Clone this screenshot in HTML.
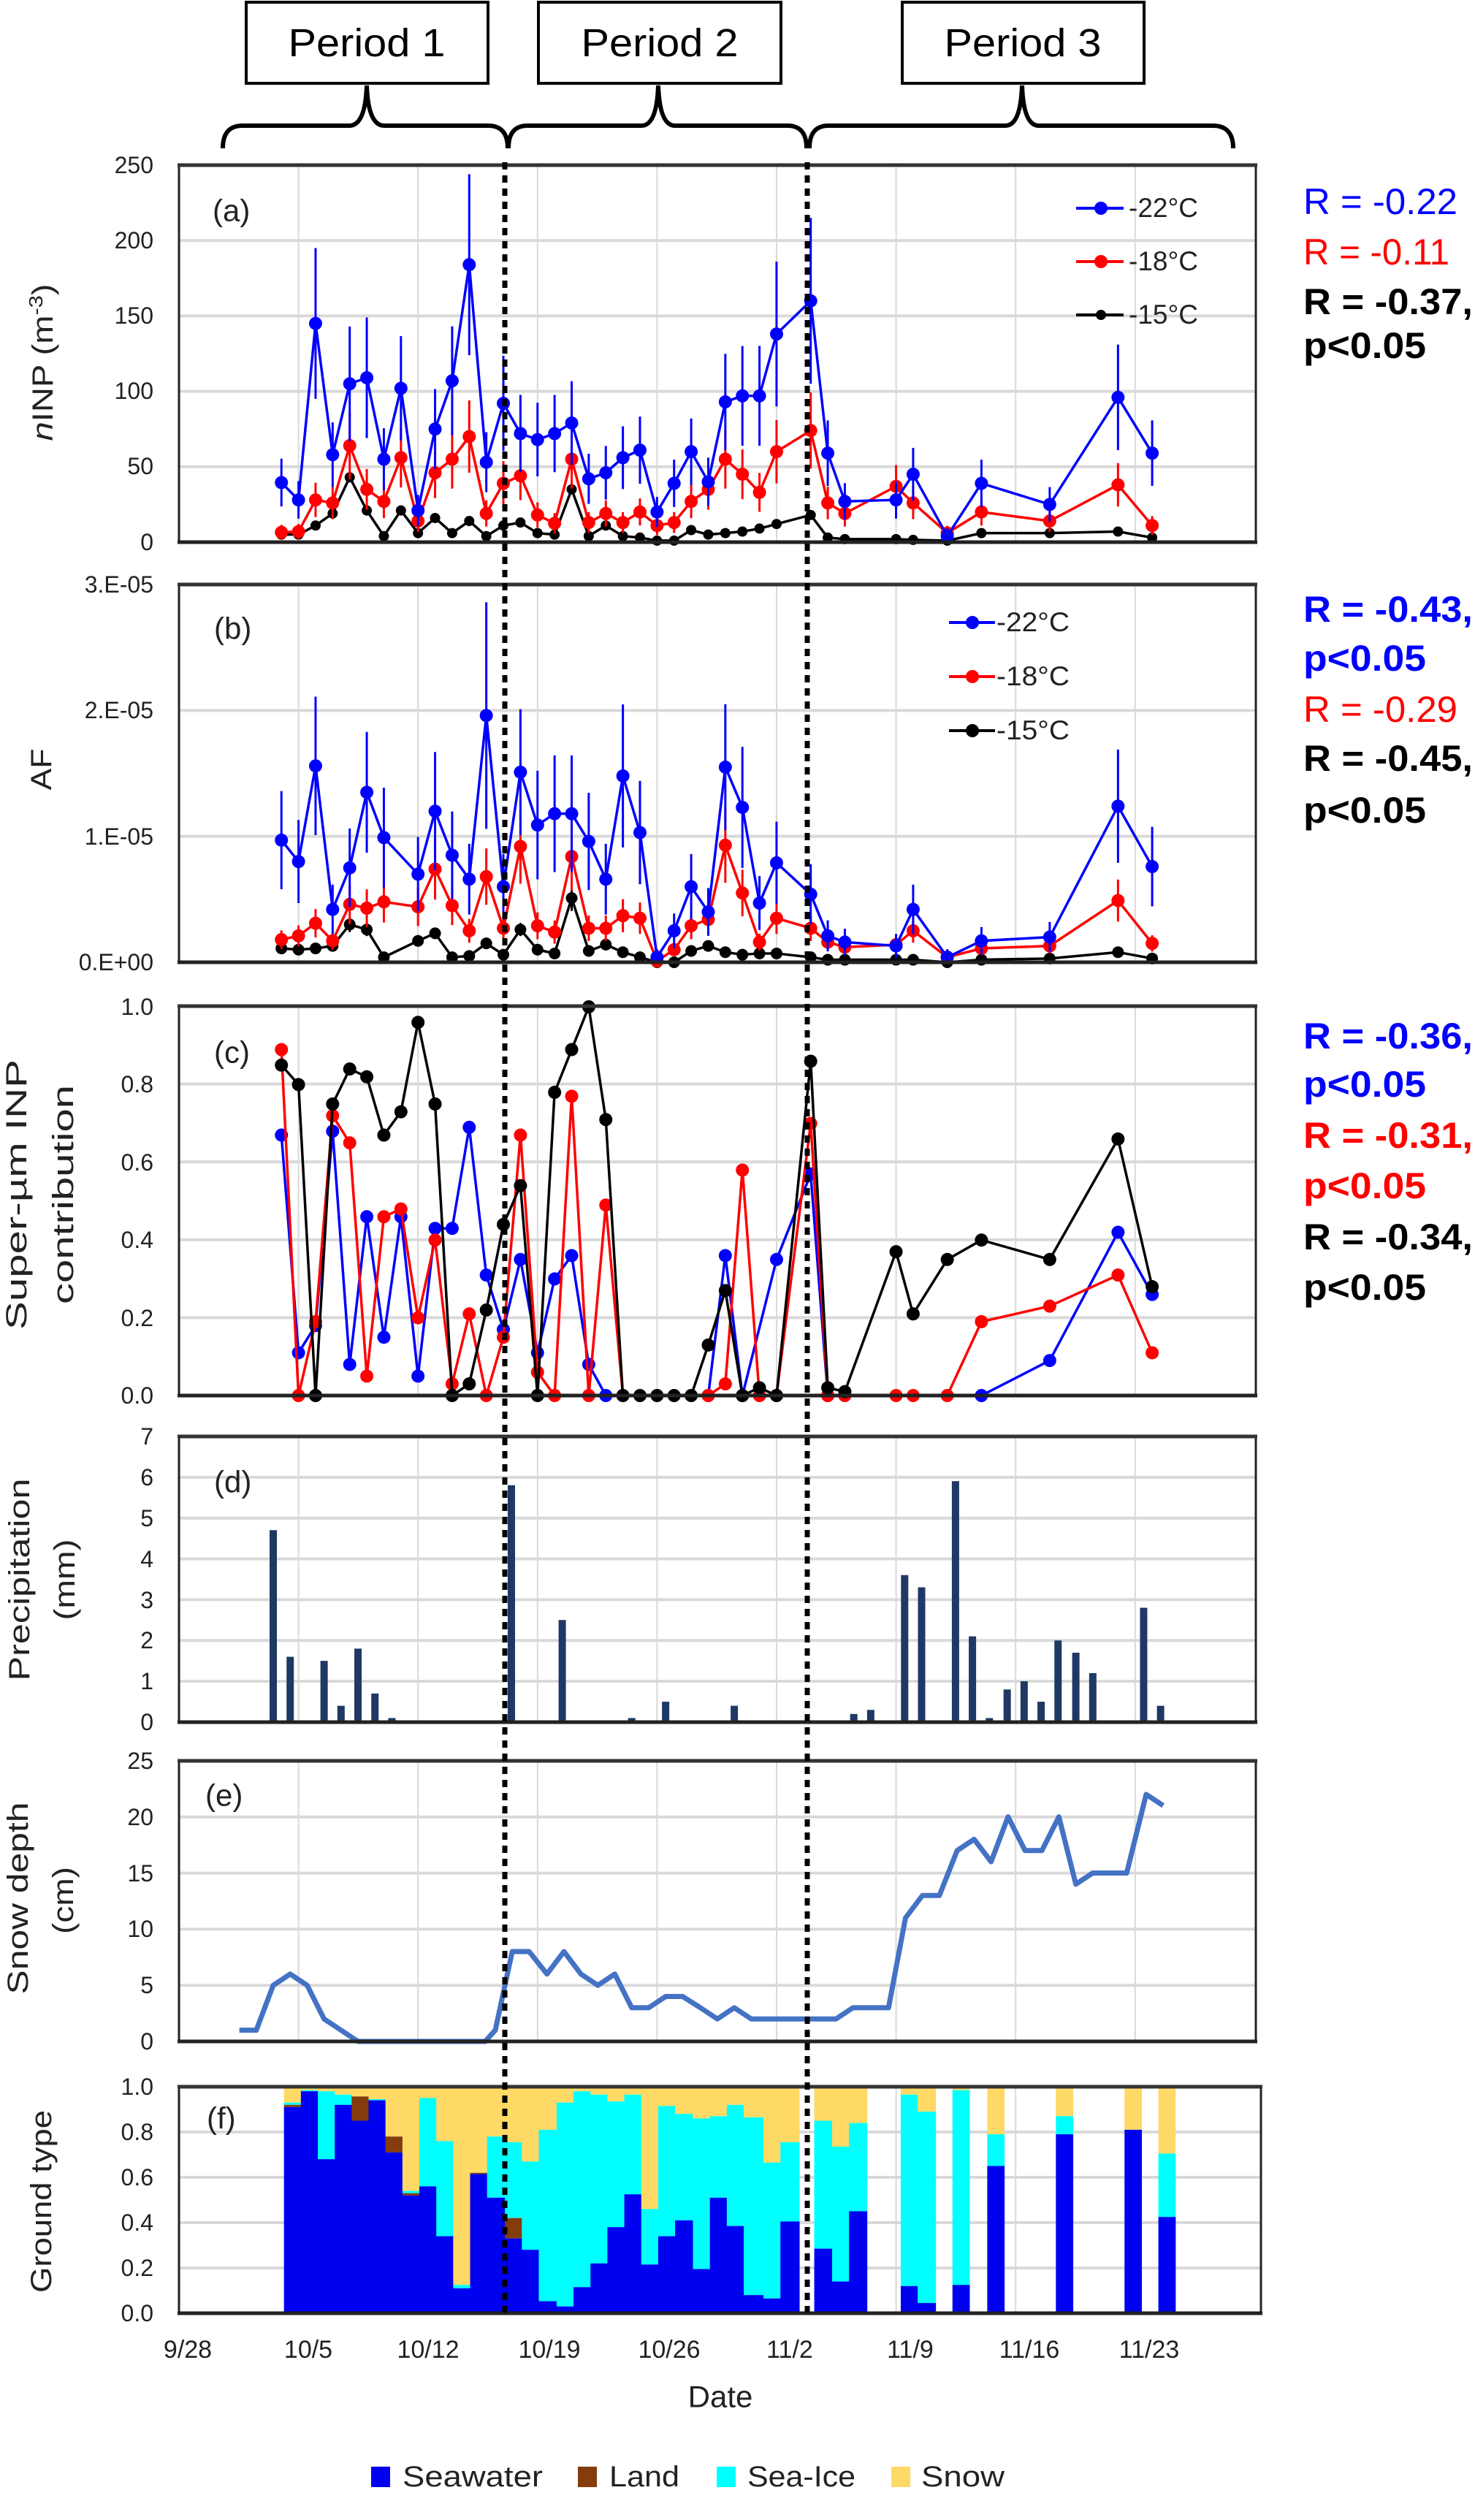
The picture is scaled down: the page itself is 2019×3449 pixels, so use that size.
<!DOCTYPE html>
<html><head><meta charset="utf-8"><style>
html,body{margin:0;padding:0;background:#fff;}
svg{display:block;font-family:"Liberation Sans",sans-serif;}
</style></head><body>
<svg id="s" xmlns="http://www.w3.org/2000/svg" width="2019" height="3449" viewBox="0 0 2019 3449">
<rect width="2019" height="3449" fill="#fff"/>
<g id="grid"></g>
<g id="data"></g>
<g fill="none" stroke="#000" stroke-width="4">
<rect x="337" y="3" width="331" height="111"/>
<rect x="737" y="3" width="332" height="111"/>
<rect x="1235" y="3" width="331" height="111"/>
<path d="M305,203 Q305,172 332,172 L478,172 Q500,172 502,117 Q504,172 526,172 L668,172 Q695,172 695,203" stroke-width="6"/>
<path d="M696,203 Q696,172 722,172 L878,172 Q899,172 901,117 Q903,172 924,172 L1078,172 Q1104,172 1104,203" stroke-width="6"/>
<path d="M1108,203 Q1108,172 1134,172 L1376,172 Q1397,172 1399,117 Q1401,172 1422,172 L1660,172 Q1688,172 1688,203" stroke-width="6"/>
</g>
<g font-size="54" text-anchor="middle" fill="#000">
<text x="502" y="77" textLength="215" lengthAdjust="spacingAndGlyphs">Period 1</text>
<text x="903" y="77" textLength="215" lengthAdjust="spacingAndGlyphs">Period 2</text>
<text x="1400" y="77" textLength="215" lengthAdjust="spacingAndGlyphs">Period 3</text>
</g>
<g font-size="32" text-anchor="end" fill="#222" dominant-baseline="central">
<text x="210" y="226">250</text><text x="210" y="329">200</text><text x="210" y="432">150</text><text x="210" y="535">100</text><text x="210" y="638">50</text><text x="210" y="742">0</text>
<text x="210" y="800">3.E-05</text><text x="210" y="972">2.E-05</text><text x="210" y="1145">1.E-05</text><text x="210" y="1317">0.E+00</text>
<text x="210" y="1378">1.0</text><text x="210" y="1484">0.8</text><text x="210" y="1591">0.6</text><text x="210" y="1697">0.4</text><text x="210" y="1804">0.2</text><text x="210" y="1910">0.0</text>
<text x="210" y="1966">7</text><text x="210" y="2022">6</text><text x="210" y="2078">5</text><text x="210" y="2134">4</text><text x="210" y="2190">3</text><text x="210" y="2245">2</text><text x="210" y="2301">1</text><text x="210" y="2357">0</text>
<text x="210" y="2410">25</text><text x="210" y="2487">20</text><text x="210" y="2564">15</text><text x="210" y="2640">10</text><text x="210" y="2717">5</text><text x="210" y="2794">0</text>
<text x="210" y="2856">1.0</text><text x="210" y="2918">0.8</text><text x="210" y="2980">0.6</text><text x="210" y="3042">0.4</text><text x="210" y="3104">0.2</text><text x="210" y="3166">0.0</text>
</g>
<g font-size="34" text-anchor="middle" fill="#222" dominant-baseline="central">
<text x="257" y="3216">9/28</text><text x="422" y="3216">10/5</text><text x="586" y="3216">10/12</text><text x="752" y="3216">10/19</text><text x="916" y="3216">10/26</text><text x="1081" y="3216">11/2</text><text x="1246" y="3216">11/9</text><text x="1409" y="3216">11/16</text><text x="1573" y="3216">11/23</text>
</g>
<text x="986" y="3280" font-size="42" text-anchor="middle" dominant-baseline="central" fill="#222">Date</text>
<g font-size="40" fill="#222" text-anchor="middle">
<text transform="translate(72,496) rotate(-90)" textLength="215" lengthAdjust="spacingAndGlyphs"><tspan font-style="italic">n</tspan>INP (m<tspan font-size="26" dy="-14">-3</tspan><tspan dy="14">)</tspan></text>
<text transform="translate(70,1053) rotate(-90)" textLength="57" lengthAdjust="spacingAndGlyphs">AF</text>
<text transform="translate(36,1635) rotate(-90)" textLength="370" lengthAdjust="spacingAndGlyphs">Super-µm INP</text>
<text transform="translate(100,1635) rotate(-90)" textLength="300" lengthAdjust="spacingAndGlyphs">contribution</text>
<text transform="translate(40,2162) rotate(-90)" textLength="277" lengthAdjust="spacingAndGlyphs">Precipitation</text>
<text transform="translate(102,2162) rotate(-90)" textLength="111" lengthAdjust="spacingAndGlyphs">(mm)</text>
<text transform="translate(38,2598) rotate(-90)" textLength="263" lengthAdjust="spacingAndGlyphs">Snow depth</text>
<text transform="translate(100,2601) rotate(-90)" textLength="92" lengthAdjust="spacingAndGlyphs">(cm)</text>
<text transform="translate(70,3013) rotate(-90)" textLength="250" lengthAdjust="spacingAndGlyphs">Ground type</text>
</g>
<g font-size="42" fill="#222" dominant-baseline="central">
<text x="291" y="288">(a)</text><text x="293" y="860">(b)</text><text x="293" y="1440">(c)</text><text x="293" y="2028">(d)</text><text x="281" y="2457">(e)</text><text x="283" y="2899">(f)</text>
</g>
<g font-size="37" fill="#222">
<line x1="1473" y1="285" x2="1538" y2="285" stroke="#00f" stroke-width="4"/><circle cx="1507" cy="285" r="9" fill="#00f"/>
<text x="1545" y="297" textLength="95" lengthAdjust="spacingAndGlyphs">-22°C</text>
<line x1="1473" y1="358" x2="1538" y2="358" stroke="#f00" stroke-width="4"/><circle cx="1507" cy="358" r="9" fill="#f00"/>
<text x="1545" y="370" textLength="95" lengthAdjust="spacingAndGlyphs">-18°C</text>
<line x1="1473" y1="431" x2="1538" y2="431" stroke="#000" stroke-width="4"/><circle cx="1507" cy="431" r="7" fill="#000"/>
<text x="1545" y="443" textLength="95" lengthAdjust="spacingAndGlyphs">-15°C</text>
<line x1="1299" y1="852" x2="1362" y2="852" stroke="#00f" stroke-width="4"/><circle cx="1331" cy="852" r="9" fill="#00f"/>
<text x="1364" y="864" textLength="100" lengthAdjust="spacingAndGlyphs">-22°C</text>
<line x1="1299" y1="926" x2="1362" y2="926" stroke="#f00" stroke-width="4"/><circle cx="1331" cy="926" r="9" fill="#f00"/>
<text x="1364" y="938" textLength="100" lengthAdjust="spacingAndGlyphs">-18°C</text>
<line x1="1299" y1="1000" x2="1362" y2="1000" stroke="#000" stroke-width="4"/><circle cx="1331" cy="1000" r="9" fill="#000"/>
<text x="1364" y="1012" textLength="100" lengthAdjust="spacingAndGlyphs">-15°C</text>
</g>
<g font-size="50">
<text x="1784" y="293" fill="#00f" textLength="211" lengthAdjust="spacingAndGlyphs">R = -0.22</text>
<text x="1784" y="362" fill="#f00" textLength="200" lengthAdjust="spacingAndGlyphs">R = -0.11</text>
<text x="1784" y="430" fill="#000" font-weight="bold" textLength="232" lengthAdjust="spacingAndGlyphs">R = -0.37,</text>
<text x="1784" y="490" fill="#000" font-weight="bold" textLength="168" lengthAdjust="spacingAndGlyphs">p&lt;0.05</text>
<text x="1784" y="851" fill="#00f" font-weight="bold" textLength="232" lengthAdjust="spacingAndGlyphs">R = -0.43,</text>
<text x="1784" y="918" fill="#00f" font-weight="bold" textLength="168" lengthAdjust="spacingAndGlyphs">p&lt;0.05</text>
<text x="1784" y="988" fill="#f00" textLength="211" lengthAdjust="spacingAndGlyphs">R = -0.29</text>
<text x="1784" y="1055" fill="#000" font-weight="bold" textLength="232" lengthAdjust="spacingAndGlyphs">R = -0.45,</text>
<text x="1784" y="1126" fill="#000" font-weight="bold" textLength="168" lengthAdjust="spacingAndGlyphs">p&lt;0.05</text>
<text x="1784" y="1435" fill="#00f" font-weight="bold" textLength="232" lengthAdjust="spacingAndGlyphs">R = -0.36,</text>
<text x="1784" y="1501" fill="#00f" font-weight="bold" textLength="168" lengthAdjust="spacingAndGlyphs">p&lt;0.05</text>
<text x="1784" y="1571" fill="#f00" font-weight="bold" textLength="232" lengthAdjust="spacingAndGlyphs">R = -0.31,</text>
<text x="1784" y="1640" fill="#f00" font-weight="bold" textLength="168" lengthAdjust="spacingAndGlyphs">p&lt;0.05</text>
<text x="1784" y="1710" fill="#000" font-weight="bold" textLength="232" lengthAdjust="spacingAndGlyphs">R = -0.34,</text>
<text x="1784" y="1779" fill="#000" font-weight="bold" textLength="168" lengthAdjust="spacingAndGlyphs">p&lt;0.05</text>
</g>
<g font-size="40" fill="#222" dominant-baseline="central">
<rect x="508" y="3376" width="26" height="28" fill="#0000f0"/><text x="551" y="3390" textLength="192" lengthAdjust="spacingAndGlyphs">Seawater</text>
<rect x="791" y="3376" width="26" height="28" fill="#843c0c"/><text x="834" y="3390" textLength="96" lengthAdjust="spacingAndGlyphs">Land</text>
<rect x="981" y="3376" width="26" height="28" fill="#00ffff"/><text x="1023" y="3390" textLength="148" lengthAdjust="spacingAndGlyphs">Sea-Ice</text>
<rect x="1220" y="3376" width="26" height="28" fill="#ffd966"/><text x="1261" y="3390" textLength="114" lengthAdjust="spacingAndGlyphs">Snow</text>
</g>
<g id="top"></g>
</svg>
<script>
(function(){
var NS="http://www.w3.org/2000/svg";
function el(p,t,a){var e=document.createElementNS(NS,t);for(var k in a)e.setAttribute(k,a[k]);p.appendChild(e);return e;}
var G=document.getElementById('grid'),D=document.getElementById('data'),T=document.getElementById('top');
var L=245,R=1719;
var panels=[
 {t:226,b:742,n:5},{t:800,b:1317,n:3},{t:1377,b:1910,n:5},{t:1966,b:2357,n:7},{t:2410,b:2794,n:5},{t:2856,b:3166,n:5,r:1726}
];
panels.forEach(function(p){
 var r=p.r||R;
 for(var k=1;k<=8;k++){var x=245+163.6*k;if(x<r)el(G,'line',{x1:x,y1:p.t,x2:x,y2:p.b,stroke:'#d9d9d9','stroke-width':2});}
 for(var i=1;i<p.n;i++){var y=p.b-(p.b-p.t)*i/p.n;el(G,'line',{x1:L,y1:y,x2:r,y2:y,stroke:'#d9d9d9','stroke-width':4});}
 p.rr=r;
});
function X(d){return 245+23.37*d;}
function series(data,Y,col,r,errf){
 var pts=data.map(function(q){return X(q[0])+','+Y(q[1]);}).join(' ');
 if(errf)data.forEach(function(q){var e=errf(q);if(e>0)el(D,'line',{x1:X(q[0]),x2:X(q[0]),y1:Y(q[1]+e),y2:Y(Math.max(q[1]-e,0)),stroke:col,'stroke-width':3});});
 el(D,'polyline',{points:pts,fill:'none',stroke:col,'stroke-width':3.5});
 data.forEach(function(q){el(D,'circle',{cx:X(q[0]),cy:Y(q[1]),r:r,fill:col});});
}
var days=[6,7,8,9,10,11,12,13,14,15,16,17,18,19,20,21,22,23,24,25,26,27,28,29,30,31,32,33,34,35,37,38,39,42,43,45,47,51,55,57];
function z(v){return v.map(function(x,i){return [days[i],x];});}
var Ya=function(v){return 742-v*2.064;};
var aB=z([39.5,28,145,58,105,109,55,102,21,75,107,184,53,92,72,68,72,79,42,46,56,61,20,39,60,40,93,97,97,138,160,59,27,28,45,4,39,25,96,59]);
var aR=z([6.5,7,28,26,64,35,27,56,14,46,55,70,19,39,44,18,12.5,55,13,19,13,20,11,13,27,35,55,45,33,60,74,26,19,37,26,6,20,14,38,11]);
var aK=z([5,5,11,19,43,21,4,21,6,16,6,14,4,11,13,6,5,35,4,11,4,3,1,1,8,5,6,7,9,12,18,3,2,2,1.5,1,6,6,7,3]);
var bigA={8:50,17:60,37:55,55:35,11:40,10:38,35:48};
series(aK,Ya,'#000',7,null);
series(aR,Ya,'#f00',9,function(q){return q[1]*0.3+3;});
series(aB,Ya,'#00f',9,function(q){return bigA[q[0]]||q[1]*0.3+4;});
var Yb=function(v){return 1317-v*172.3;};
var bdays=days.filter(function(d){return d!=13;});
function zb(v){return v.map(function(x,i){return [bdays[i],x];});}
var bB=zb([0.97,0.80,1.56,0.42,0.75,1.35,0.99,0.70,1.2,0.85,0.66,1.96,0.60,1.51,1.09,1.18,1.18,0.96,0.66,1.48,1.03,0.04,0.25,0.6,0.4,1.55,1.23,0.47,0.79,0.54,0.21,0.16,0.13,0.42,0.04,0.17,0.2,1.24,0.76]);
var bR=zb([0.18,0.21,0.31,0.17,0.46,0.43,0.48,0.44,0.74,0.45,0.25,0.68,0.27,0.92,0.29,0.24,0.84,0.27,0.27,0.37,0.35,0.01,0.1,0.29,0.34,0.93,0.55,0.16,0.35,0.27,0.16,0.12,0.14,0.25,0.04,0.11,0.13,0.49,0.15]);
var bK=zb([0.11,0.10,0.11,0.13,0.30,0.26,0.04,0.17,0.23,0.04,0.05,0.15,0.06,0.26,0.10,0.07,0.51,0.09,0.14,0.08,0.04,0,0,0.09,0.13,0.08,0.06,0.07,0.07,0.04,0.02,0.02,0.02,0.02,0,0.02,0.03,0.08,0.03]);
var bigB={18:0.9,8:0.55,20:0.5,32:0.5,11:0.48,55:0.45};
series(bK,Yb,'#000',8,function(q){return q[1]*0.2;});
series(bR,Yb,'#f00',9,function(q){return q[1]*0.3+0.02;});
series(bB,Yb,'#00f',9,function(q){return bigB[q[0]]||q[1]*0.35+0.05;});
var Yc=function(v){return 1910-v*532;};
var cB=[[6,.67],[7,.11],[8,.18],[9,.68],[10,.08],[11,.46],[12,.15],[13,.46],[14,.05],[15,.43],[16,.43],[17,.69],[18,.31],[19,.17],[20,.35],[21,.11],[22,.30],[23,.36],[24,.08],[25,0],[31,0],[32,.36],[33,0],[35,.35],[37,.57],[38,0],[47,0],[51,.09],[55,.42],[57,.26]];
var cR=[[6,.89],[7,0],[8,.19],[9,.72],[10,.65],[11,.05],[12,.46],[13,.48],[14,.20],[15,.40],[16,.03],[17,.21],[18,0],[19,.15],[20,.67],[21,.06],[22,0],[23,.77],[24,0],[25,.49],[26,0],[31,0],[32,.03],[33,.58],[34,0],[35,0],[37,.70],[38,0],[39,0],[42,0],[43,0],[45,0],[47,.19],[51,.23],[55,.31],[57,.11]];
var cK=[[6,.85],[7,.80],[8,0],[9,.75],[10,.84],[11,.82],[12,.67],[13,.73],[14,.96],[15,.75],[16,0],[17,.03],[18,.22],[19,.44],[20,.54],[21,0],[22,.78],[23,.89],[24,1.0],[25,.71],[26,0],[27,0],[28,0],[29,0],[30,0],[31,.13],[32,.27],[33,0],[34,.02],[35,0],[37,.86],[38,.02],[39,.01],[42,.37],[43,.21],[45,.35],[47,.40],[51,.35],[55,.66],[57,.28]];
series(cB,Yc,'#00f',9,null);
series(cR,Yc,'#f00',9,null);
series(cK,Yc,'#000',9,null);
var dB=[[150,4.7],[170,1.6],[210,1.5],[230,0.4],[250,1.8],[270,0.7],[290,0.1],[431,5.8],[491,2.5],[573,0.1],[613,0.5],[694,0.4],[835,0.2],[855,0.3],[895,3.6],[915,3.3],[955,5.9],[975,2.1],[995,0.1],[1016,0.8],[1036,1.0],[1056,0.5],[1076,2.0],[1097,1.7],[1117,1.2],[1177,2.8],[1197,0.4]];
dB.forEach(function(q){var x=200+q[0]/0.862;var h=q[1]*55.9;el(D,'rect',{x:x-5,y:2357-h,width:10,height:h,fill:'#1f3864'});});
var eP=[[110,1],[130,1],[150,5],[170,6],[190,5],[210,2],[230,1],[250,0],[400,0],[412,1],[432,8],[452,8],[473,6],[493,8],[513,6],[533,5],[553,6],[573,3],[593,3],[613,4],[633,4],[654,3],[674,2],[694,3],[714,2],[814,2],[834,3],[876,3],[896,11],[916,13],[936,13],[957,17],[977,18],[997,16],[1017,20],[1037,17],[1057,17],[1077,20],[1097,14],[1117,15],[1157,15],[1180,22],[1200,21]];
el(D,'polyline',{points:eP.map(function(q){return (200+q[0]/0.862)+','+(2794-q[1]*15.37);}).join(' '),fill:'none',stroke:'#4472c4','stroke-width':7,'stroke-linejoin':'round'});
var fC=[[302,320,.91,.92,.93],[320,338,.98,.98,.985],[338,356,.68,.68,.98],[356,374,.92,.92,.965],[374,392,.85,.957,.957],[392,410,.94,.94,.945],[410,428,.71,.78,.78],[428,446,.52,.53,.54],[446,464,.56,.56,.95],[464,482,.34,.34,.76],[482,500,.11,.11,.125],[500,518,.615,.62,.62],[518,537,.51,.51,.78],[537,555,.33,.42,.755],[555,573,.28,.28,.67],[573,592,.053,.053,.81],[592,610,.03,.03,.93],[610,628,.115,.115,.98],[628,646,.22,.22,.965],[646,664,.38,.38,.935],[664,682,.525,.525,.965],[682,700,.215,.215,.46],[700,718,.34,.34,.915],[718,737,.41,.41,.88],[737,755,.195,.195,.86],[755,773,.51,.51,.87],[773,791,.385,.385,.92],[791,812,.08,.08,.865],[812,830,.065,.065,.665],[830,850,.405,.405,.755],[866,885,.285,.285,.85],[885,903,.14,.14,.735],[903,922,.45,.45,.84],[958,976,.12,.12,.965],[976,995,.045,.045,.89],[1013,1031,.125,.125,.985],[1050,1068,.65,.65,.79],[1123,1141,.79,.79,.87],[1196,1214,.81,.81,.81],[1232,1250,.425,.425,.705]];
function Yf(v){return 3166-v*310;}
fC.forEach(function(c){var x=c[0]/0.777,w=(c[1]-c[0])/0.777+0.6;
 el(D,'rect',{x:x,y:Yf(1),width:w,height:Yf(c[4])-Yf(1),fill:'#ffd966'});
 el(D,'rect',{x:x,y:Yf(c[4]),width:w,height:Yf(c[3])-Yf(c[4]),fill:'#00ffff'});
 el(D,'rect',{x:x,y:Yf(c[3]),width:w,height:Yf(c[2])-Yf(c[3]),fill:'#843c0c'});
 el(D,'rect',{x:x,y:Yf(c[2]),width:w,height:Yf(0)-Yf(c[2]),fill:'#0000f0'});
});
panels.forEach(function(p){
 el(T,'line',{x1:L,y1:p.t,x2:L,y2:p.b,stroke:'#222','stroke-width':3});
 el(T,'line',{x1:p.rr,y1:p.t,x2:p.rr,y2:p.b,stroke:'#222','stroke-width':3});
 el(T,'line',{x1:L-2,y1:p.t,x2:p.rr+2,y2:p.t,stroke:'#333','stroke-width':5});
 el(T,'line',{x1:L-2,y1:p.b,x2:p.rr+2,y2:p.b,stroke:'#222','stroke-width':5});
});
[691,1105].forEach(function(x){el(T,'line',{x1:x,y1:222,x2:x,y2:3165,stroke:'#000','stroke-width':7,'stroke-dasharray':'10 8'});});
})();
</script>
</body></html>
